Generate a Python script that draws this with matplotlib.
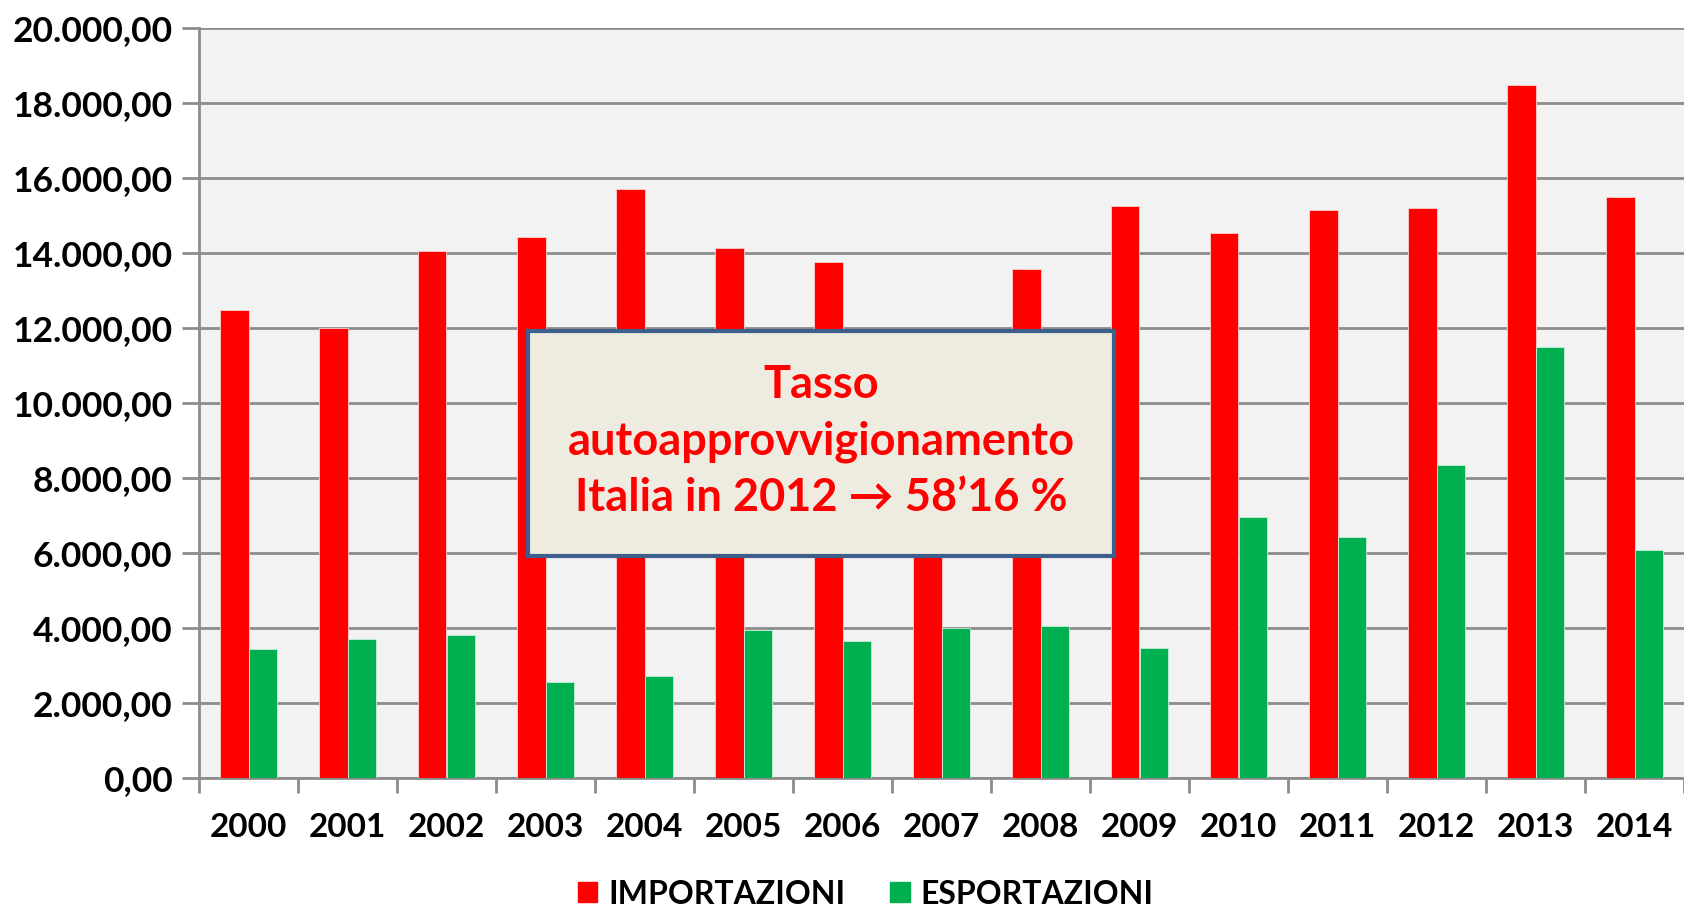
import matplotlib
matplotlib.use('Agg')
import matplotlib.pyplot as plt
from matplotlib.patches import Patch
from matplotlib.ticker import FuncFormatter
import numpy as np

# dati
anni = ['2000', '2001', '2002', '2003', '2004', '2005', '2006', '2007',
        '2008', '2009', '2010', '2011', '2012', '2013', '2014']
importazioni = [12480, 12000, 14060, 14430, 15710, 14130, 13770, 10500,
                13570, 15250, 14540, 15150, 15200, 18480, 15490]
esportazioni = [3430, 3720, 3810, 2550, 2720, 3950, 3660, 3990,
                4060, 3460, 6950, 6440, 8350, 11500, 6070]
nota = 'Tasso\nautoapprovvigionamento\nItalia in 2012 \u2192 58\u201916 %'

plt.rcParams['font.family'] = ['Lato', 'DejaVu Sans']
plt.rcParams['font.weight'] = 'bold'

W, H = 1684, 909
fig = plt.figure(figsize=(W / 100, H / 100), dpi=100)
ax = fig.add_axes([199 / W, (H - 778) / H, 1 - 199 / W, 750 / H])
ax.set_facecolor('#F2F2F2')

x = np.arange(len(anni))
w = 0.285
ax.bar(x - w / 2, importazioni, w, color='#FF0000', edgecolor='#FFD0D0', linewidth=0.6, zorder=3)
ax.bar(x + w / 2, esportazioni, w, color='#00B050', edgecolor='#C8F0D8', linewidth=0.6, zorder=3)

ax.set_xlim(-0.5, (W - 199) / 100.4 - 0.5)
ax.set_ylim(0, 20000)
ax.set_yticks(np.arange(0, 20001, 2000))
fmt = lambda v, p: '{:,.2f}'.format(v).replace(',', 'X').replace('.', ',').replace('X', '.')
ax.yaxis.set_major_formatter(FuncFormatter(fmt))
ax.grid(axis='y', color='#8C8C8C', linewidth=2, zorder=1)
ax.set_axisbelow(True)

# tacche ai bordi delle categorie, etichette al centro
ax.set_xticks(np.arange(-0.5, len(anni), 1))
ax.set_xticklabels([])
ax.set_xticks(x, minor=True)
ax.set_xticklabels(anni, minor=True)
ax.tick_params(axis='x', which='major', length=11, width=2, color='#8C8C8C')
ax.tick_params(axis='x', which='minor', length=0, pad=25, labelsize=24)
ax.tick_params(axis='y', length=12, width=2, color='#8C8C8C', pad=7, labelsize=25.5)

for s in ['top', 'right']:
    ax.spines[s].set_visible(False)
for s in ['left', 'bottom']:
    ax.spines[s].set_color('#8C8C8C')
    ax.spines[s].set_linewidth(2)

# riquadro con il tasso
box_x0, box_x1 = 528 / W, 1114 / W
box_y0, box_y1 = (H - 556) / H, (H - 331) / H
rect = plt.Rectangle((box_x0, box_y0), box_x1 - box_x0, box_y1 - box_y0,
                     transform=fig.transFigure, facecolor='#EEEBE0',
                     edgecolor='#3C5F8C', linewidth=3, zorder=5)
fig.patches.append(rect)
fig.text((box_x0 + box_x1) / 2, (box_y0 + box_y1) / 2 + 0.002, nota, color='#FF0000',
         fontsize=32.5, ha='center', va='center', linespacing=1.42, zorder=6)

handles = [Patch(color='#FF0000', label='IMPORTAZIONI'),
           Patch(color='#00B050', label='ESPORTAZIONI')]
fig.legend(handles=handles, loc='center', bbox_to_anchor=(866 / W, (H - 894) / H),
           ncol=2, frameon=False, fontsize=23, handlelength=0.6, handleheight=0.6,
           handletextpad=0.35, columnspacing=1.4)

fig.savefig('out.png', dpi=100)
